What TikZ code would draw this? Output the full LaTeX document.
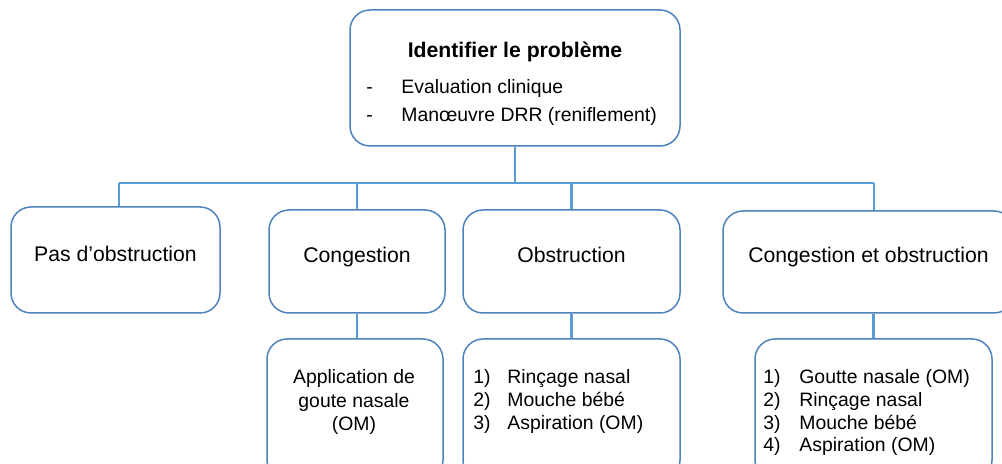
\documentclass[tikz,border=0pt]{standalone}
\usepackage{fontspec}
\setmainfont{Liberation Sans}
\usepackage{tikz}
\definecolor{boxblue}{RGB}{79,129,189}
\definecolor{lineblue}{RGB}{91,155,213}
\tikzset{
    box/.style={draw=boxblue, line width=0.75pt, rounded corners=10pt},
    link/.style={draw=lineblue, line width=1.2pt},
    big/.style={font=\fontsize{10.6}{12}\selectfont},
    small/.style={font=\fontsize{9.7}{11.4}\selectfont, inner sep=0pt}
}

\begin{document}
\begin{tikzpicture}[x=0.5pt, y=-0.5pt]
    % Page frame
    \useasboundingbox (0,0) rectangle (1002,464);
    \clip (0,0) rectangle (1002,464);

    % Boxes
    \node[box, minimum width=165pt, minimum height=68pt] (top) at (515,78) {};
    \node[box, minimum width=104.5pt, minimum height=53pt] (pas) at (115.5,260) {};
    \node[box, minimum width=88pt, minimum height=51.5pt] (cong) at (357,261.5) {};
    \node[box, minimum width=108.5pt, minimum height=51.5pt] (obs) at (571.5,261.5) {};
    \node[box, minimum width=145.5pt, minimum height=51pt] (ceo) at (868.5,262) {};
    \node[box, minimum width=88pt, minimum height=70.5pt] (app) at (355,409.5) {};
    \node[box, minimum width=108.5pt, minimum height=70.5pt] (obslist) at (571.5,409.5) {};
    \node[box, minimum width=118.5pt, minimum height=70.5pt] (ceolist) at (873.5,409.5) {};

    % Bus line
    \coordinate (busL) at (119,183);
    \coordinate (busR) at (874,183);
    \draw[link] (busL) -- (busR);
    \draw[link] (top.south) -- (top.south |- busL);
    \draw[link] (busL) -- (busL |- pas.north);
    \draw[link] (cong.north |- busL) -- (cong.north);
    \draw[link] (obs.north |- busL) -- (obs.north);
    \draw[link] (busR) -- (busR |- ceo.north);

    % Second level links
    \draw[link] (cong.south) -- (cong.south |- app.north);
    \draw[link] (obs.south) -- (obs.south |- obslist.north);
    \draw[link] (ceolist.north |- ceo.south) -- (ceolist.north);

    % Texts of the top box
    \node[big, anchor=base] (title) at (515,58) {\bfseries Identifier le problème};
    \node[small, anchor=base west] (dashA) at (366,94) {-};
    \node[small, anchor=base west] (itemA) at (401,94) {Evaluation clinique};
    \node[small, anchor=base west] (dashB) at (366,122) {-};
    \node[small, anchor=base west] (itemB) at (401,122) {Manœuvre DRR (reniflement)};

    % Texts of the second level
    \node[big, anchor=base] (pasText) at (115.5,262) {Pas d’obstruction};
    \node[big, anchor=base] (congText) at (357,263) {Congestion};
    \node[big, anchor=base] (obsText) at (571.5,263) {Obstruction};
    \node[big, anchor=base] (ceoText) at (868.5,263) {Congestion et obstruction};

    % Texts of the third level
    \node[small, align=center, anchor=north, font=\fontsize{9.7}{11.8}\selectfont] (appText) at (354,369)
        {Application de\\goute nasale\\(OM)};
    \node[small, align=left, anchor=north west] (obslistText) at (473,369)
        {\makebox[17pt][l]{1)}Rinçage nasal\\
         \makebox[17pt][l]{2)}Mouche bébé\\
         \makebox[17pt][l]{3)}Aspiration (OM)};
    \node[small, align=left, anchor=north west] (ceolistText) at (763,369)
        {\makebox[18pt][l]{1)}Goutte nasale (OM)\\
         \makebox[18pt][l]{2)}Rinçage nasal\\
         \makebox[18pt][l]{3)}Mouche bébé\\
         \makebox[18pt][l]{4)}Aspiration (OM)};
\end{tikzpicture}
\end{document}
